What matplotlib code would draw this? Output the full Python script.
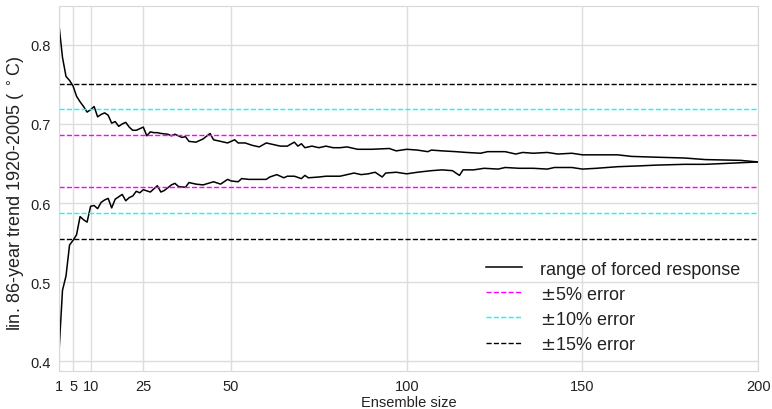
import numpy as np
import matplotlib
matplotlib.use('Agg')
import matplotlib.pyplot as plt

# envelope of the ensemble-mean trend (upper / lower bound)
upper_x = [1, 2, 3, 4, 5, 6, 7, 8, 9, 10, 11, 12, 13, 14, 15, 16, 17, 18, 19, 20,
           21, 22, 23, 24, 25, 26, 27, 28, 29, 30, 32, 33, 34, 35, 36, 37, 38, 40,
           42, 44, 45, 47, 49, 51, 52, 54, 56, 58, 60, 62, 64, 66, 68, 69, 70, 71,
           73, 75, 77, 79, 81, 83, 86, 90, 95, 97, 100, 103, 106, 107, 110, 114,
           117, 121, 123, 128, 131, 133, 136, 140, 143, 147, 150, 154, 160, 164,
           171, 179, 185, 195, 200]
upper_y = [0.825, 0.784, 0.760, 0.755, 0.748, 0.735, 0.728, 0.722, 0.715, 0.718,
           0.722, 0.709, 0.712, 0.714, 0.711, 0.701, 0.703, 0.697, 0.700, 0.702,
           0.696, 0.692, 0.692, 0.694, 0.696, 0.685, 0.690, 0.689, 0.689, 0.688,
           0.687, 0.685, 0.687, 0.685, 0.683, 0.684, 0.678, 0.677, 0.681, 0.688,
           0.680, 0.678, 0.676, 0.680, 0.676, 0.676, 0.673, 0.671, 0.676, 0.674,
           0.672, 0.672, 0.677, 0.672, 0.675, 0.670, 0.672, 0.670, 0.672, 0.670,
           0.670, 0.671, 0.668, 0.668, 0.669, 0.666, 0.668, 0.667, 0.665, 0.667,
           0.666, 0.665, 0.664, 0.663, 0.665, 0.665, 0.662, 0.664, 0.663, 0.664,
           0.662, 0.663, 0.661, 0.661, 0.661, 0.659, 0.658, 0.657, 0.655, 0.654,
           0.652]

lower_x = [1, 2, 3, 4, 5, 6, 7, 8, 9, 10, 11, 12, 13, 14, 15, 16, 17, 18, 19, 20,
           21, 22, 23, 24, 25, 27, 29, 30, 31, 33, 34, 35, 37, 38, 40, 42, 45, 47,
           49, 50, 52, 53, 55, 58, 60, 61, 63, 65, 66, 68, 70, 71, 72, 75, 77, 81,
           85, 87, 89, 91, 93, 94, 97, 100, 103, 107, 110, 113, 115, 116, 119, 122,
           126, 128, 132, 136, 140, 142, 147, 150, 154, 160, 166, 171, 179, 185,
           195, 200]
lower_y = [0.412, 0.490, 0.508, 0.547, 0.553, 0.560, 0.583, 0.579, 0.576, 0.596,
           0.597, 0.593, 0.601, 0.604, 0.606, 0.594, 0.605, 0.608, 0.611, 0.603,
           0.607, 0.609, 0.615, 0.613, 0.617, 0.614, 0.622, 0.614, 0.616, 0.623,
           0.625, 0.621, 0.620, 0.626, 0.624, 0.623, 0.627, 0.624, 0.630, 0.628,
           0.627, 0.631, 0.630, 0.630, 0.630, 0.633, 0.636, 0.632, 0.634, 0.634,
           0.631, 0.635, 0.632, 0.633, 0.634, 0.634, 0.638, 0.636, 0.637, 0.639,
           0.633, 0.638, 0.639, 0.637, 0.639, 0.641, 0.642, 0.641, 0.635, 0.642,
           0.642, 0.644, 0.643, 0.645, 0.644, 0.644, 0.643, 0.645, 0.645, 0.643,
           0.644, 0.646, 0.647, 0.648, 0.649, 0.649, 0.651, 0.652]

forced = 0.653
err_pct = [5, 10, 15]
err_colors = ['#ff00ff', '#00ffff', 'black']

xticks = [1, 5, 10, 25, 50, 100, 150, 200]
yticks = [0.4, 0.5, 0.6, 0.7, 0.8]

plt.rcParams['font.family'] = ['Liberation Sans', 'DejaVu Sans']

fig = plt.figure(figsize=(7.72, 4.10), dpi=100)
ax = fig.add_axes([0.0764, 0.0927, 0.9056, 0.8903])

ax.plot(upper_x, upper_y, color='black', lw=1.1, label='range of forced response')
ax.plot(lower_x, lower_y, color='black', lw=1.1)

for p, c in zip(err_pct, err_colors):
    hi = forced * (1 + p / 100)
    lo = forced * (1 - p / 100)
    ax.axhline(hi, color=c, ls='--', lw=1, label=r'$\pm$%d%% error' % p)
    ax.axhline(lo, color=c, ls='--', lw=1)

ax.set_xlim(1, 200)
ax.set_ylim(0.388, 0.849)
ax.set_xticks(xticks)
ax.set_yticks(yticks)
ax.set_yticklabels(['0.4', '0.5', '0.6', '0.7', '0.8'])
ax.grid(True, color='#dddddd', lw=1)
ax.set_axisbelow(True)
for s in ax.spines.values():
    s.set_color('#d9d9d9')
ax.tick_params(length=0, labelsize=10.5, colors='#222222', pad=6)

ax.set_xlabel('Ensemble size', fontsize=10.5, color='#222222', labelpad=1)
ax.set_ylabel(r'lin. 86-year trend 1920-2005 ( $^\circ$C)', fontsize=13,
              color='#222222')
ax.yaxis.set_label_coords(-0.046, 0.49)

leg = ax.legend(loc='lower right', frameon=False, fontsize=13,
                handlelength=2.0, handletextpad=1.0, labelspacing=0.45,
                borderaxespad=0.6)
for t in leg.get_texts():
    t.set_color('#222222')

fig.savefig('out.png', dpi=100)
